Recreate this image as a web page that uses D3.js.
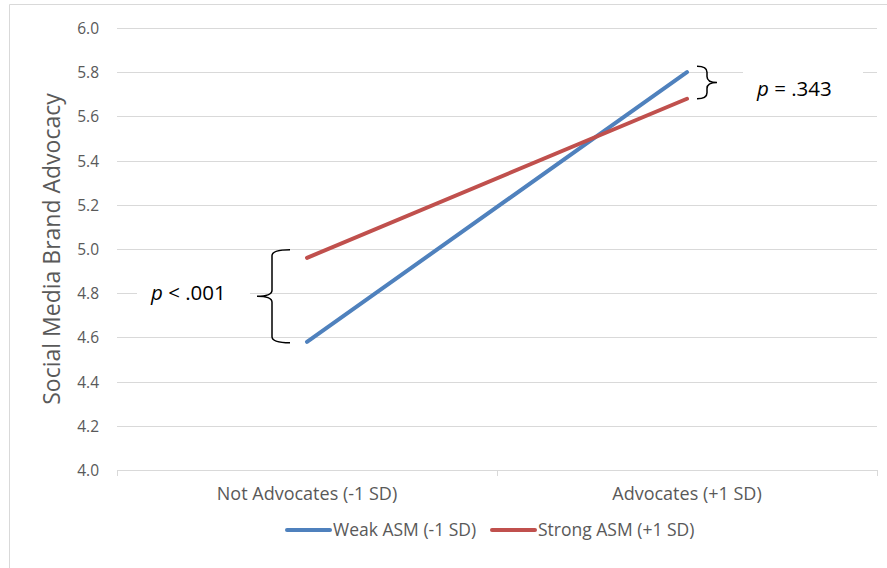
<!DOCTYPE html>
<html>
<head>
<meta charset="utf-8">
<script src="https://cdn.jsdelivr.net/npm/d3@7"></script>
<style>
  html, body { margin: 0; padding: 0; background: #fff; }
  svg { display: block; font-family: "Open Sans", Lato, sans-serif; }
</style>
</head>
<body>
<svg id="chart" width="887" height="568"></svg>
<script>
const categories = ["Not Advocates (-1 SD)", "Advocates (+1 SD)"];
const seriesNames = ["Weak ASM (-1 SD)", "Strong ASM (+1 SD)"];
const weakValues = [4.58, 5.80];
const strongValues = [4.96, 5.68];
const seriesColors = ["#4F81BD", "#C0504D"];
const yTicks = [4.0, 4.2, 4.4, 4.6, 4.8, 5.0, 5.2, 5.4, 5.6, 5.8, 6.0];
const yTitle = "Social Media Brand Advocacy";
const pLeft = ["p", " < .001"];
const pRight = ["p", " = .343"];

(function () {
const svg = d3.select("#chart");
const FONT = "'Open Sans', Lato, sans-serif";
const pl = 117, pr = 877, pt = 28, pb = 470;

// outer border (only top and left edges are visible in the cropped original)
svg.append("path").attr("d", "M9.5,568V4.5H887")
  .attr("fill", "none").attr("stroke", "#D9D9D9").attr("stroke-width", 1);

const x = d3.scaleBand().domain(categories).range([pl, pr]);
const y = d3.scaleLinear().domain([4, 6]).range([pb, pt]);
const cx = c => x(c) + x.bandwidth() / 2;

// gridlines
svg.append("g").selectAll("line").data(yTicks.slice(1)).join("line")
  .attr("x1", pl).attr("x2", pr)
  .attr("y1", d => Math.round(y(d)) + 0.5).attr("y2", d => Math.round(y(d)) + 0.5)
  .attr("stroke", "#D9D9D9").attr("stroke-width", 1);

// y axis labels
const yAxis = d3.axisLeft(y).tickValues(yTicks).tickFormat(d3.format(".1f")).tickSize(0).tickPadding(18);
const gy = svg.append("g").attr("transform", `translate(${pl},0)`).call(yAxis);
gy.select(".domain").remove();
gy.selectAll("text").attr("fill", "#595959").attr("dy", "0.36em")
  .style("font-size", "15.5px").style("font-family", FONT);

// x axis
const xAxis = d3.axisBottom(x).tickSize(0).tickPadding(17);
const gx = svg.append("g").attr("transform", `translate(0,${Math.round(pb) + 0.5})`).call(xAxis);
gx.select(".domain").attr("stroke", "#D9D9D9").attr("d", `M${pl},0H${pr}`);
gx.selectAll("text").attr("fill", "#595959").style("font-size", "18px").style("font-family", FONT);
const bounds = [pl].concat(categories.map(c => x(c) + x.bandwidth()));
svg.append("g").selectAll("line").data(bounds).join("line")
  .attr("x1", d => Math.round(d) + 0.5).attr("x2", d => Math.round(d) + 0.5)
  .attr("y1", Math.round(pb)).attr("y2", Math.round(pb) + 6)
  .attr("stroke", "#D9D9D9");

// y title
svg.append("text").attr("transform", `translate(60,${(pt + pb) / 2}) rotate(-90)`)
  .attr("text-anchor", "middle").attr("fill", "#595959").style("font-size", "23px").text(yTitle);

// label backgrounds (hide gridlines)
svg.append("rect").attr("x", 137).attr("y", y(4.8) - 12).attr("width", 113).attr("height", 26).attr("fill", "#fff");
svg.append("rect").attr("x", 743).attr("y", y(5.8) - 10).attr("width", 120).attr("height", 36).attr("fill", "#fff");

// lines
const series = [weakValues, strongValues];
const lineGen = d3.line().x((d, i) => cx(categories[i])).y(d => y(d));
svg.append("g").selectAll("path").data(series).join("path")
  .attr("d", d => lineGen(d)).attr("fill", "none")
  .attr("stroke", (d, i) => seriesColors[i]).attr("stroke-width", 4).attr("stroke-linecap", "round");

// braces
function brace(xEnd, xMid, xTip, y0, y1) {
  const m = (y0 + y1) / 2, r = 6;
  return `M${xEnd},${y0}Q${xMid},${y0} ${xMid},${y0 + r}L${xMid},${m - r}Q${xMid},${m} ${xTip},${m}` +
         `Q${xMid},${m} ${xMid},${m + r}L${xMid},${y1 - r}Q${xMid},${y1} ${xEnd},${y1}`;
}
const l0 = y(strongValues[0]) - 8, l1 = y(weakValues[0]) + 1;
svg.append("path").attr("d", brace(290, 272, 257, l0, l1))
  .attr("fill", "none").attr("stroke", "#000").attr("stroke-width", 1.5);
const r0 = y(weakValues[1]) - 6, r1 = y(strongValues[1]);
svg.append("path").attr("d", brace(697, 707, 717, r0, r1))
  .attr("fill", "none").attr("stroke", "#000").attr("stroke-width", 1.5);

// p labels
function pLabel(lbl, xx, yy) {
  const t = svg.append("text").attr("x", xx).attr("y", yy).attr("fill", "#000")
    .style("font-size", "20.5px").style("font-family", FONT);
  t.append("tspan").style("font-style", "italic").text(lbl[0]);
  t.append("tspan").text(lbl[1]);
}
pLabel(pLeft, 151, 300);
pLabel(pRight, 757, 96);

// legend
const legX = [287, 492];
const lg = svg.append("g");
seriesNames.forEach((n, i) => {
  lg.append("line").attr("x1", legX[i]).attr("x2", legX[i] + 43).attr("y1", 530).attr("y2", 530)
    .attr("stroke", seriesColors[i]).attr("stroke-width", 4).attr("stroke-linecap", "round");
  lg.append("text").attr("x", legX[i] + 46).attr("y", 536).attr("fill", "#595959")
    .style("font-size", "17.5px").style("font-family", FONT).text(n);
});
})();
</script>
</body>
</html>
